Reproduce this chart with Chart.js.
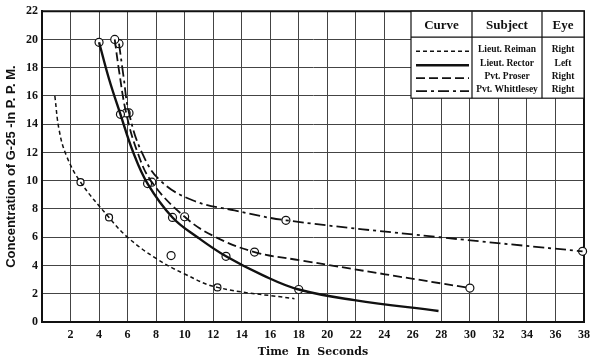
<!DOCTYPE html>
<html lang="en">
<head>
  <meta charset="UTF-8" />
  <title>G-25 Concentration vs Time</title>
  <script src="https://cdn.jsdelivr.net/npm/chart.js"></script>
  <style>
    html, body { margin: 0; padding: 0; background: #fff; }
    #wrap { width: 600px; height: 363px; }
  </style>
</head>
<body>
  <div id="wrap"><canvas id="chart" width="600" height="363"></canvas></div>

  <script>
    // axis ticks
    const xTicks = [2, 4, 6, 8, 10, 12, 14, 16, 18, 20, 22, 24, 26, 28, 30, 32, 34, 36, 38];
    const yTicks = [0, 2, 4, 6, 8, 10, 12, 14, 16, 18, 20, 22];

    // legend table
    const subjects = ['Lieut. Reiman', 'Lieut. Rector', 'Pvt. Proser', 'Pvt. Whittlesey'];
    const eyes = ['Right', 'Left', 'Right', 'Right'];

    // smooth curves
    const reimanCurve = [
      { x: 0.9, y: 16 }, { x: 1.2, y: 13.6 }, { x: 1.7, y: 11.8 }, { x: 2.7, y: 9.9 }, { x: 4.7, y: 7.4 },
      { x: 6.0, y: 6.0 }, { x: 8.0, y: 4.5 }, { x: 10.0, y: 3.4 }, { x: 12.3, y: 2.45 }, { x: 17.7, y: 1.65 }
    ];
    const rectorCurve = [
      { x: 4.0, y: 19.8 }, { x: 4.7, y: 17.2 }, { x: 5.5, y: 14.7 }, { x: 6.4, y: 12.0 }, { x: 7.4, y: 9.8 },
      { x: 9.15, y: 7.4 }, { x: 10.9, y: 6.0 }, { x: 12.9, y: 4.65 }, { x: 15.5, y: 3.3 }, { x: 18.0, y: 2.3 },
      { x: 21.9, y: 1.55 }, { x: 27.8, y: 0.78 }
    ];
    const proserCurve = [
      { x: 5.1, y: 20.0 }, { x: 5.4, y: 17.8 }, { x: 5.9, y: 14.8 }, { x: 6.7, y: 12.0 }, { x: 7.7, y: 9.9 },
      { x: 10.0, y: 7.45 }, { x: 12.0, y: 6.1 }, { x: 14.9, y: 4.95 }, { x: 18.1, y: 4.37 }, { x: 30, y: 2.4 }
    ];
    const whittleseyCurve = [
      { x: 5.4, y: 19.7 }, { x: 5.7, y: 17.5 }, { x: 6.1, y: 14.8 }, { x: 7.0, y: 12.0 }, { x: 8.3, y: 10.0 },
      { x: 10.6, y: 8.6 }, { x: 13.5, y: 7.9 }, { x: 17.1, y: 7.2 }, { x: 27.9, y: 6.0 }, { x: 37.9, y: 5.0 }
    ];

    // observed points (circles)
    const reimanMarks = [{ x: 2.7, y: 9.9 }, { x: 4.7, y: 7.4 }, { x: 12.3, y: 2.45 }];
    const rectorMarks = [
      { x: 4.0, y: 19.8 }, { x: 5.5, y: 14.7 }, { x: 7.4, y: 9.8 }, { x: 9.15, y: 7.4 },
      { x: 12.9, y: 4.65 }, { x: 18.0, y: 2.3 }
    ];
    const proserMarks = [
      { x: 5.1, y: 20.0 }, { x: 5.9, y: 14.8 }, { x: 7.7, y: 9.9 }, { x: 10.0, y: 7.45 },
      { x: 14.9, y: 4.95 }, { x: 30, y: 2.4 }
    ];
    const whittleseyMarks = [{ x: 5.4, y: 19.7 }, { x: 6.1, y: 14.8 }, { x: 17.1, y: 7.2 }, { x: 37.9, y: 5.0 }];
    const strayMarks = [{ x: 9.05, y: 4.7 }];

    const dashes = [[4, 3], [], [9, 4], [11, 4, 3, 4]];
    const widths = [1.5, 2.4, 1.8, 1.8];
    const serif = 'Liberation Serif';

    function curve(label, data, i) {
      return {
        label, data, showLine: true, borderColor: '#111', borderWidth: widths[i],
        borderDash: dashes[i], pointRadius: 0, tension: 0.4, fill: false
      };
    }
    function marks(data, r) {
      return {
        data, showLine: false, pointRadius: r, pointBackgroundColor: '#fff',
        pointBorderColor: '#111', pointBorderWidth: 1.2, clip: 8
      };
    }

    // legend table drawn over the grid, top right
    const tablePlugin = {
      id: 'curveTable',
      afterDatasetsDraw(chart) {
        const ctx = chart.ctx, a = chart.chartArea;
        const x0 = a.right - 173, x1 = a.right - 112, x2 = a.right - 42, x3 = a.right;
        const y0 = a.top, y1 = a.top + 26, y2 = a.top + 87;
        ctx.save();
        ctx.fillStyle = '#fff';
        ctx.fillRect(x0, y0, x3 - x0, y2 - y0);
        ctx.strokeStyle = '#111';
        ctx.lineWidth = 1.2;
        ctx.strokeRect(x0, y0, x3 - x0, y2 - y0);
        ctx.beginPath();
        ctx.moveTo(x0, y1); ctx.lineTo(x3, y1);
        ctx.moveTo(x1, y0); ctx.lineTo(x1, y2);
        ctx.moveTo(x2, y0); ctx.lineTo(x2, y2);
        ctx.stroke();

        ctx.fillStyle = '#111';
        ctx.textAlign = 'center';
        ctx.textBaseline = 'middle';
        ctx.font = 'bold 13px ' + serif;
        ctx.fillText('Curve', (x0 + x1) / 2, y0 + 14);
        ctx.fillText('Subject', (x1 + x2) / 2, y0 + 14);
        ctx.fillText('Eye', (x2 + x3) / 2, y0 + 14);

        const rowY = [38, 52, 65, 78];
        subjects.forEach((s, i) => {
          const y = y0 + rowY[i];
          ctx.font = 'bold 9.5px ' + serif;
          ctx.fillText(s, (x1 + x2) / 2, y);
          ctx.fillText(eyes[i], (x2 + x3) / 2, y);
          ctx.beginPath();
          ctx.setLineDash(dashes[i]);
          ctx.lineWidth = widths[i];
          ctx.moveTo(x0 + 5, y + 2); ctx.lineTo(x1 - 3, y + 2);
          ctx.stroke();
          ctx.setLineDash([]);
        });
        ctx.restore();
      }
    };

    // plot frame on top/right
    const framePlugin = {
      id: 'frame',
      beforeDatasetsDraw(chart) {
        const ctx = chart.ctx, a = chart.chartArea;
        ctx.save();
        ctx.strokeStyle = '#111';
        ctx.lineWidth = 2;
        ctx.beginPath();
        ctx.moveTo(a.left, a.top); ctx.lineTo(a.right, a.top); ctx.lineTo(a.right, a.bottom);
        ctx.stroke();
        ctx.restore();
      }
    };

    new Chart(document.getElementById('chart'), {
      type: 'scatter',
      data: {
        datasets: [
          curve(subjects[0], reimanCurve, 0),
          curve(subjects[1], rectorCurve, 1),
          curve(subjects[2], proserCurve, 2),
          curve(subjects[3], whittleseyCurve, 3),
          marks(reimanMarks, 3.5),
          marks(rectorMarks, 4),
          marks(proserMarks, 4),
          marks(whittleseyMarks, 4),
          marks(strayMarks, 4)
        ]
      },
      options: {
        responsive: false,
        animation: false,
        layout: { padding: { left: 0, right: 16, top: 10, bottom: 0 } },
        plugins: { legend: { display: false }, tooltip: { enabled: false } },
        scales: {
          x: {
            type: 'linear', min: 0, max: 38,
            afterFit: s => { s.height = 41; },
            afterBuildTicks: s => { s.ticks = xTicks.map(v => ({ value: v })); },
            ticks: { color: '#111', padding: 6, maxRotation: 0, autoSkip: false, font: { family: serif, weight: 'bold', size: 12 } },
            grid: { color: '#444', lineWidth: 1, drawTicks: false },
            border: { color: '#111', width: 2 },
            title: {
              display: true, text: 'Time  In  Seconds', color: '#111',
              font: { family: 'DejaVu Serif', weight: 'bold', size: 11 }, padding: { top: 0, bottom: 4 }
            }
          },
          y: {
            type: 'linear', min: 0, max: 22,
            afterFit: s => { s.width = 42; },
            afterBuildTicks: s => { s.ticks = yTicks.map(v => ({ value: v })); },
            ticks: { color: '#111', padding: 4, font: { family: serif, weight: 'bold', size: 12 } },
            grid: { color: '#444', lineWidth: 1, drawTicks: false },
            border: { color: '#111', width: 2 },
            title: {
              display: true, text: 'Concentration of G-25 -In P. P. M.', color: '#111',
              font: { family: 'Liberation Sans', weight: 'bold', size: 13 }, padding: { top: 4, bottom: 0 }
            }
          }
        }
      },
      plugins: [framePlugin, tablePlugin]
    });
  </script>
</body>
</html>
